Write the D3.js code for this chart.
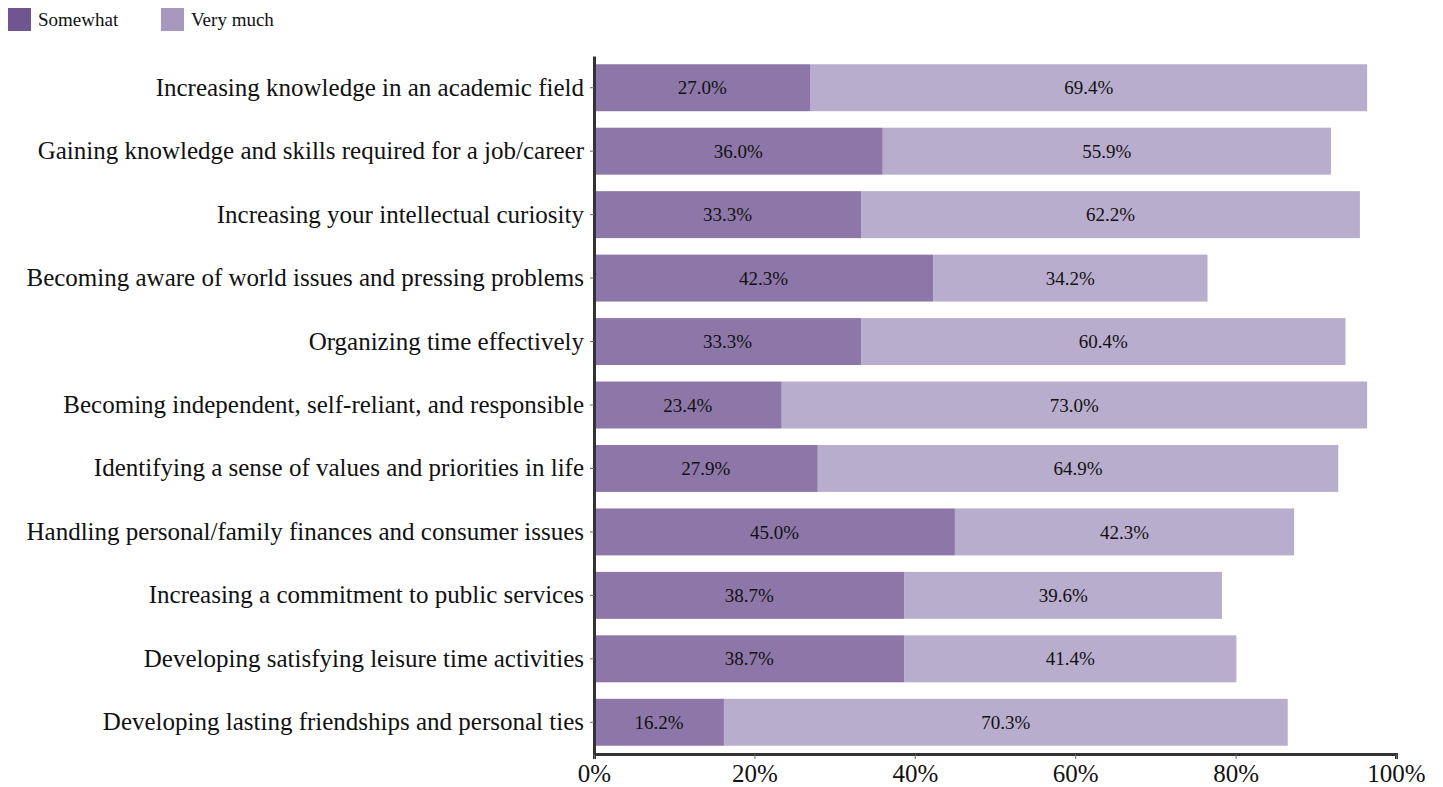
<!DOCTYPE html>
<html>
<head>
<meta charset="utf-8">
<script src="https://cdn.jsdelivr.net/npm/d3@7"></script>
<style>
  body { margin: 0; background: #fff; }
  svg text { font-family: "Liberation Serif", "Times New Roman", serif; }
</style>
</head>
<body>
<div id="chart"></div>
<script>
// data
var categories = [
  "Increasing knowledge in an academic field",
  "Gaining knowledge and skills required for a job/career",
  "Increasing your intellectual curiosity",
  "Becoming aware of world issues and pressing problems",
  "Organizing time effectively",
  "Becoming independent, self-reliant, and responsible",
  "Identifying a sense of values and priorities in life",
  "Handling personal/family finances and consumer issues",
  "Increasing a commitment to public services",
  "Developing satisfying leisure time activities",
  "Developing lasting friendships and personal ties"
];
var somewhat = [27.0, 36.0, 33.3, 42.3, 33.3, 23.4, 27.9, 45.0, 38.7, 38.7, 16.2];
var veryMuch = [69.4, 55.9, 62.2, 34.2, 60.4, 73.0, 64.9, 42.3, 39.6, 41.4, 70.3];
var seriesNames = ["Somewhat", "Very much"];
var xTicks = [0, 20, 40, 60, 80, 100];

function init() {
  var w = 1443, h = 787;
  var margin = {left: 594, right: 47, top: 56, bottom: 33};

  var svg = d3.select("#chart").append("svg")
      .attr("width", w)
      .attr("height", h);

  var colors = ["#705592", "#a898c0"];

  var x = d3.scaleLinear()
      .domain([0, 100])
      .range([margin.left, w - margin.right]);

  var y = d3.scaleBand()
      .domain(categories)
      .range([margin.top, h - margin.bottom])
      .paddingInner(0.26)
      .paddingOuter(0.13);

  var rows = categories.map(function(c, i) {
    return {cat: c, a: somewhat[i], b: veryMuch[i]};
  });

  var g = svg.selectAll("g.row")
      .data(rows)
      .enter()
      .append("g")
      .attr("class", "row");

  // somewhat
  g.append("rect")
      .attr("x", x(0))
      .attr("y", function(d) { return y(d.cat); })
      .attr("width", function(d) { return x(d.a) - x(0); })
      .attr("height", y.bandwidth())
      .attr("fill", colors[0])
      .attr("fill-opacity", 0.8);

  // very much
  g.append("rect")
      .attr("x", function(d) { return x(d.a); })
      .attr("y", function(d) { return y(d.cat); })
      .attr("width", function(d) { return x(d.a + d.b) - x(d.a); })
      .attr("height", y.bandwidth())
      .attr("fill", colors[1])
      .attr("fill-opacity", 0.8);

  g.append("text")
      .attr("x", function(d) { return x(d.a / 2); })
      .attr("y", function(d) { return y(d.cat) + y.bandwidth() / 2; })
      .attr("dy", "0.35em")
      .attr("text-anchor", "middle")
      .attr("font-size", 19)
      .attr("fill", "#111")
      .text(function(d) { return d.a.toFixed(1) + "%"; });

  g.append("text")
      .attr("x", function(d) { return x(d.a + d.b / 2); })
      .attr("y", function(d) { return y(d.cat) + y.bandwidth() / 2; })
      .attr("dy", "0.35em")
      .attr("text-anchor", "middle")
      .attr("font-size", 19)
      .attr("fill", "#111")
      .text(function(d) { return d.b.toFixed(1) + "%"; });

  // axes
  var xAxis = svg.append("g")
      .attr("transform", "translate(0," + (h - margin.bottom) + ")")
      .call(d3.axisBottom(x).tickValues(xTicks).tickSize(5).tickSizeOuter(5)
        .tickFormat(function(d) { return d + "%"; }));
  xAxis.select(".domain").attr("stroke", "#333").attr("stroke-width", 3);
  xAxis.selectAll(".tick line").attr("stroke", "#666");
  xAxis.selectAll(".tick text")
      .attr("font-size", 25)
      .attr("fill", "#111")
      .attr("y", 6)
      .attr("dy", "0.88em");

  var yAxis = svg.append("g")
      .attr("transform", "translate(" + margin.left + ",0)")
      .call(d3.axisLeft(y).tickSize(4).tickSizeOuter(0).tickPadding(6));
  yAxis.select(".domain").attr("stroke", "#333").attr("stroke-width", 3);
  yAxis.selectAll(".tick line").attr("stroke", "#666");
  yAxis.selectAll(".tick text")
      .attr("font-size", 25)
      .attr("fill", "#111");

  // legend
  var legendX = [8, 161];
  seriesNames.forEach(function(s, i) {
    svg.append("rect")
        .attr("x", legendX[i])
        .attr("y", 8)
        .attr("width", 23)
        .attr("height", 23)
        .attr("fill", colors[i]);
    svg.append("text")
        .attr("x", legendX[i] + 30)
        .attr("y", 26)
        .attr("font-size", 19)
        .attr("fill", "#111")
        .text(s);
  });
}

window.onload = init;
</script>
</body>
</html>
